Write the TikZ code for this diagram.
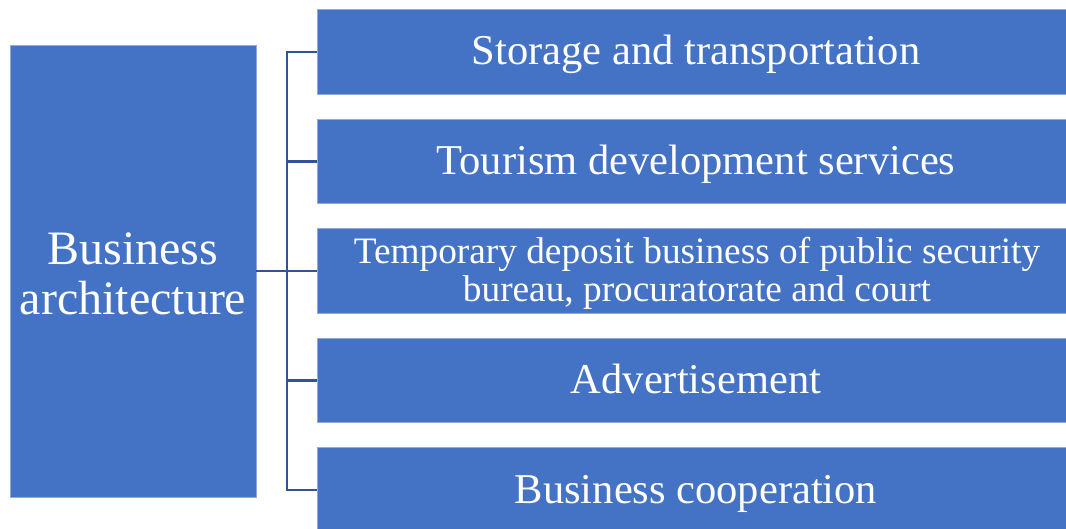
\documentclass[tikz,border=0pt]{standalone}
\usepackage{fontspec}
\setmainfont{Liberation Serif}
\definecolor{boxblue}{HTML}{4472C4}
\definecolor{edgeblue}{HTML}{8FAADC}
\definecolor{linkblue}{HTML}{2F5597}
\begin{document}
\begin{tikzpicture}[x=1pt,y=1pt,
  blk/.style={fill=boxblue, draw=edgeblue, line width=0.8pt, text=white, inner sep=0pt, align=center},
  rbox/.style={blk, minimum width=749pt, minimum height=84.5pt, font=\fontsize{42.5}{46}\selectfont},
  link/.style={draw=linkblue, line width=2.4pt}]
\useasboundingbox (0,0) rectangle (1066,528);
\node[blk, minimum width=246pt, minimum height=452pt] (L) at (133,257) {};
\node[font=\fontsize{48}{50}\selectfont, text=white, align=center, inner sep=0pt] (Lt) at (133,254) {Business\\architecture};
\node[rbox] (b1) at (691.5,476) {};
\node[rbox] (b2) at (691.5,366.5) {};
\node[rbox] (b3) at (691.5,257) {};
\node[rbox] (b4) at (691.5,147.5) {};
\node[rbox] (b5) at (691.5,38) {};
\node[font=\fontsize{42.5}{46}\selectfont, text=white, anchor=base] (t1) at (696,463) {Storage and transportation};
\node[font=\fontsize{42.5}{46}\selectfont, text=white, anchor=base] (t2) at (696,353.5) {Tourism development services};
\node[font=\fontsize{37.3}{38}\selectfont, text=white, anchor=base] (t3a) at (697,264) {Temporary deposit business of public security};
\node[font=\fontsize{37.3}{38}\selectfont, text=white, anchor=base] (t3b) at (697,226) {bureau, procuratorate and court};
\node[font=\fontsize{42.5}{46}\selectfont, text=white, anchor=base] (t4) at (696,134.5) {Advertisement};
\node[font=\fontsize{42.5}{46}\selectfont, text=white, anchor=base] (t5) at (696,25) {Business cooperation};
\coordinate (J) at (287,257);
\draw[link] (L.east) -- (b3.west);
\draw[link] (b1.west) -| (J) |- (b5.west);
\draw[link] (J |- b2.west) -- (b2.west);
\draw[link] (J |- b4.west) -- (b4.west);
\end{tikzpicture}
\end{document}
